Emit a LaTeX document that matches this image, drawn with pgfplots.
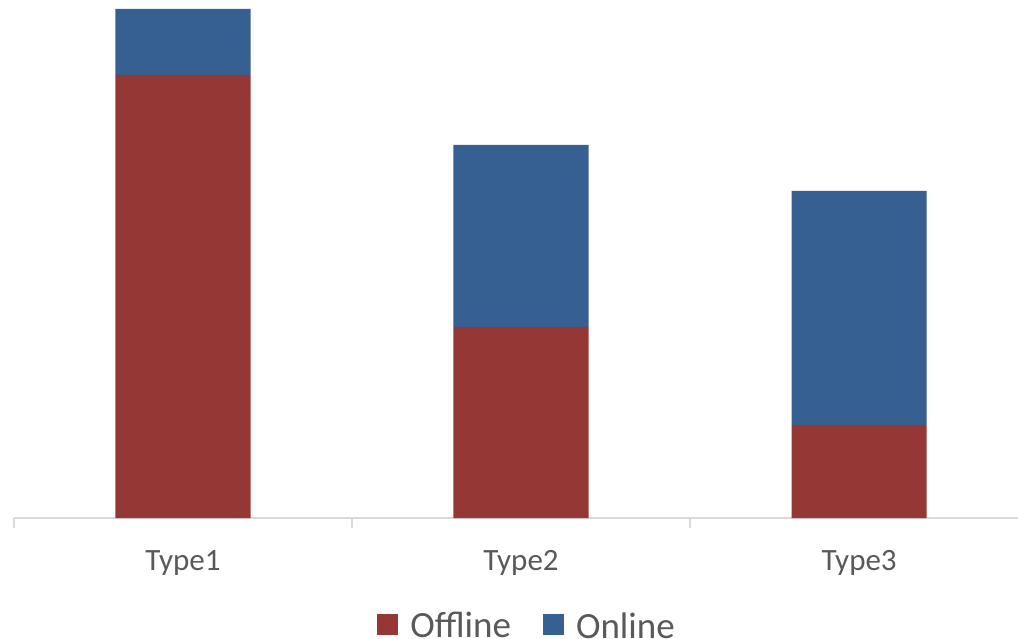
\documentclass[border=0pt]{standalone}
\usepackage{pgfplots}
\pgfplotsset{compat=1.18}
\usepackage{fontspec}
\setmainfont{Carlito}
\definecolor{offred}{HTML}{953735}
\definecolor{onblue}{HTML}{376092}
\definecolor{txtgray}{HTML}{595959}
\definecolor{axgray}{HTML}{D9D9D9}
\begin{document}
\begin{tikzpicture}
\useasboundingbox (0,0) rectangle (1018bp,639bp);
\begin{axis}[
  at={(14bp,121bp)}, anchor=south west,
  scale only axis, width=1004bp, height=518bp,
  xmin=-0.5, xmax=2.470, ymin=0, ymax=518,
  ybar stacked, bar width=0.4,
  axis y line=none,
  axis x line*=bottom,
  x axis line style={draw=axgray, line width=1.5bp, -},
  xtick={0,1,2}, xticklabels={Type1,Type2,Type3},
  major tick length=0pt,
  minor xtick={-0.5,0.5,1.5,2.5},
  minor tick length=10bp,
  tick align=outside,
  minor tick style={draw=axgray, line width=1.5bp},
  xticklabel style={anchor=base, yshift=-52bp, font=\fontsize{31bp}{36bp}\selectfont, text=txtgray, inner sep=0pt},
  clip=false,
  legend columns=-1,
  legend style={draw=none, fill=none, at={(0.51,-0.2085)}, anchor=center,
    font=\fontsize{37bp}{42bp}\selectfont, text=txtgray, inner sep=0pt,
    nodes={inner sep=0pt},
    /tikz/every odd column/.append style={column sep=12bp},
    /tikz/every even column/.append style={column sep=32bp}},
  legend image code/.code={\fill[#1] (0bp,-9bp) rectangle (21bp,12bp);},
]
\addplot[fill=offred, draw=none] coordinates {(0,443) (1,191) (2,93)};
\addplot[fill=onblue, draw=none] coordinates {(0,66) (1,182) (2,234)};
\legend{Offline,Online}
\end{axis}
\end{tikzpicture}
\end{document}
